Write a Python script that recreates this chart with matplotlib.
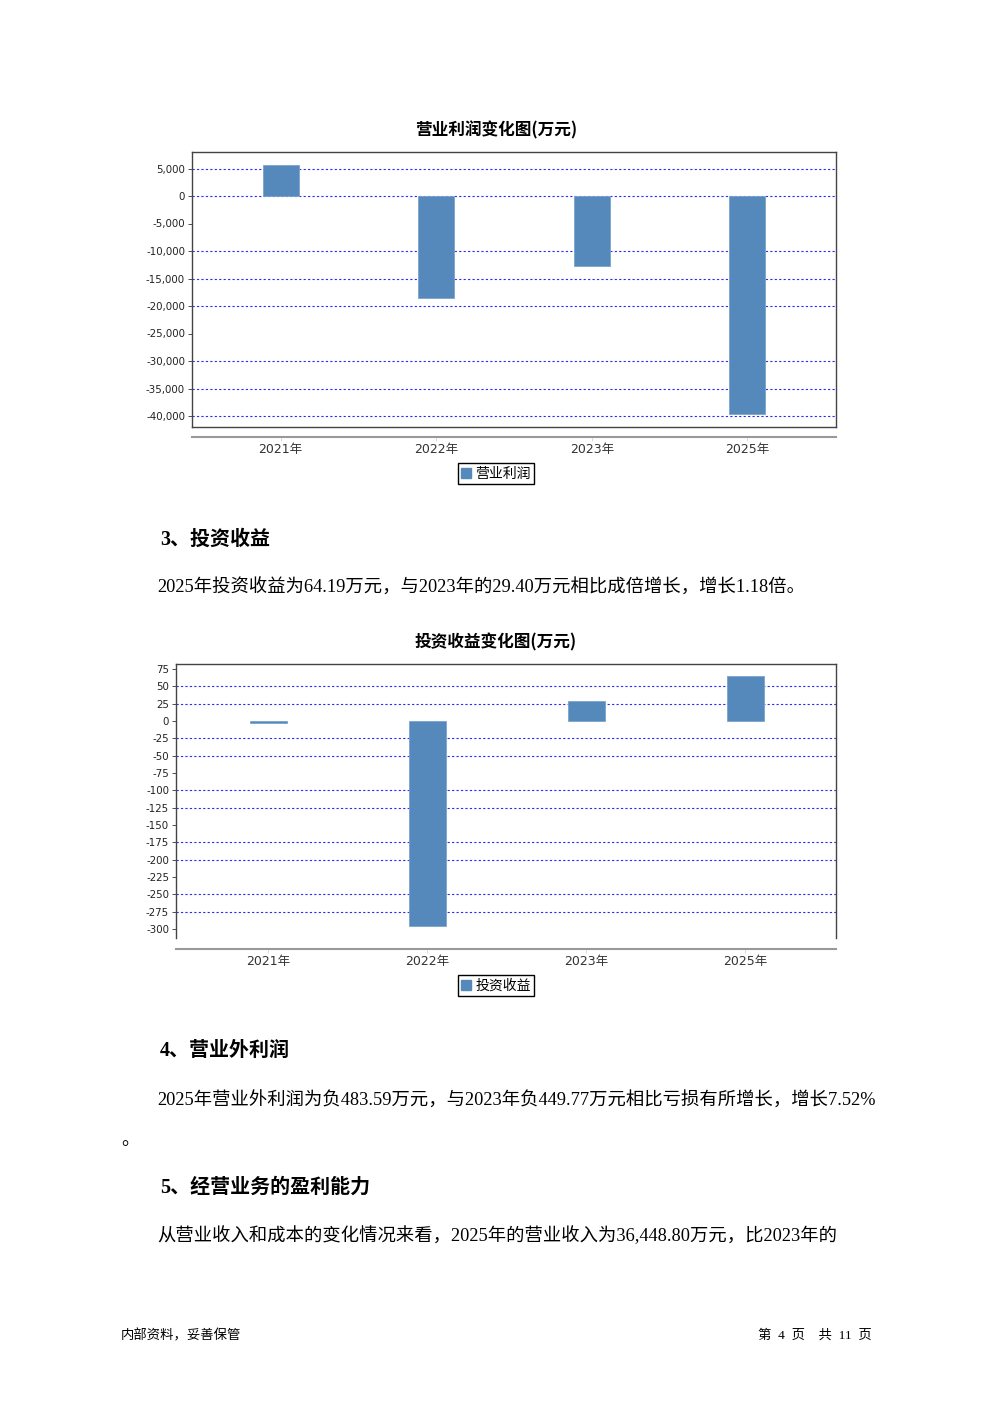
import numpy as np
import matplotlib
matplotlib.use("Agg")
import matplotlib.pyplot as plt
from matplotlib.patches import Patch
from matplotlib.ticker import FuncFormatter

# data
years = ['2021年', '2022年', '2023年', '2025年']
op_profit = [5700, -18500, -12700, -39600]        # 营业利润 (万元)
inv_income = [-2.5, -296, 29.40, 64.19]           # 投资收益 (万元)

op_ticks = list(range(5000, -40001, -5000))
op_grid = [5000, 0, -10000, -15000, -20000, -30000, -35000, -40000]
inv_ticks = list(range(75, -301, -25))
inv_grid = [50, 25, -25, -50, -100, -125, -175, -200, -250, -275]

W, H = 992, 1403
BAR = '#5588bb'
CJK = ['Noto Sans CJK SC', 'DejaVu Sans']
SANS = ['DejaVu Sans', 'Noto Sans CJK SC']
BODY = ['Liberation Serif', 'Noto Sans CJK SC']

plt.rcParams['font.family'] = SANS

fig = plt.figure(figsize=(W / 100, H / 100), dpi=100)
fig.patch.set_facecolor('white')


def px_rect(x0, y0, x1, y1):
    return [x0 / W, 1 - y1 / H, (x1 - x0) / W, (y1 - y0) / H]


def bar_chart(box, axis_y, title, title_y, values, ticks, grid, ylim, xlim,
              label, legend_y, fmt, bottom_border=True):
    x0, y0, x1, y1 = box
    ax = fig.add_axes(px_rect(x0, y0, x1, y1))
    xs = np.arange(len(years))
    ax.bar(xs, values, width=0.23, color=BAR, edgecolor='#7aa3cc',
           linewidth=0.6, zorder=3)
    for g in grid:
        ax.axhline(g, color='#2b2bff', lw=0.8, ls=(0, (2, 2)), zorder=1)
    ax.set_xlim(*xlim)
    ax.set_ylim(*ylim)
    ax.set_yticks(ticks)
    ax.yaxis.set_major_formatter(FuncFormatter(fmt))
    ax.tick_params(axis='y', labelsize=7.4, length=3, width=0.6,
                   colors='#333333', labelcolor='#222222', pad=2)
    ax.tick_params(axis='x', bottom=False, labelbottom=False)
    for s in ax.spines.values():
        s.set_color('#444444')
        s.set_linewidth(1.0)
    if not bottom_border:
        ax.spines['bottom'].set_visible(False)

    # category axis sitting just below the plot box
    cat = fig.add_axes(px_rect(x0, axis_y, x1, axis_y + 0.5))
    cat.set_xlim(*xlim)
    cat.set_yticks([])
    for k in ('top', 'left', 'right'):
        cat.spines[k].set_visible(False)
    cat.spines['bottom'].set_color('#999999')
    cat.spines['bottom'].set_linewidth(1.5)
    cat.set_xticks(xs)
    cat.set_xticklabels(years, fontsize=9, color='#333333')
    cat.tick_params(axis='x', length=3, width=0.5, color='#cccccc', pad=1.5)
    cat.patch.set_alpha(0)

    fig.text(496 / W, 1 - title_y / H, title, ha='center', va='center',
             fontsize=12, fontweight='bold', family=CJK)

    fig.legend(handles=[Patch(color=BAR, label=label)],
               loc='center', bbox_to_anchor=(496 / W, 1 - legend_y / H),
               fancybox=False, edgecolor='black', framealpha=1,
               handlelength=0.7, handleheight=0.7, handletextpad=0.3,
               borderpad=0.25, borderaxespad=0,
               prop={'family': CJK, 'size': 10})
    return ax


bar_chart((192, 152, 836, 427), 436, '营业利润变化图(万元)', 130,
          op_profit, op_ticks, op_grid, (-42000, 8000), (-0.57, 3.57),
          '营业利润', 473.5, lambda v, p: f'{int(v):,}')

bar_chart((176, 664, 836, 938), 948, '投资收益变化图(万元)', 642,
          inv_income, inv_ticks, inv_grid, (-313, 82.2), (-0.58, 3.57),
          '投资收益', 985.5, lambda v, p: f'{int(v)}', bottom_border=False)


def txt(x, y, s, size=13.2, bold=False, ha='left'):
    # small downward nudge: CJK glyph boxes sit high with va='center'
    fig.text(x / W, 1 - (y + 2.5) / H, s, ha=ha, va='center', fontsize=size,
             fontweight='bold' if bold else 'normal', family=BODY)


txt(160, 537, '3、投资收益', size=14.4, bold=True)
txt(157, 585, '2025年投资收益为64.19万元，与2023年的29.40万元相比成倍增长，增长1.18倍。')
txt(160, 1048, '4、营业外利润', size=14.4, bold=True)
txt(157, 1098, '2025年营业外利润为负483.59万元，与2023年负449.77万元相比亏损有所增长，增长7.52%')
txt(121, 1138, '。')
txt(160, 1185, '5、经营业务的盈利能力', size=14.4, bold=True)
txt(157, 1233, '从营业收入和成本的变化情况来看，2025年的营业收入为36,448.80万元，比2023年的')

txt(121, 1333, '内部资料，妥善保管', size=9.6)
txt(872, 1333, '第  4  页    共  11  页', size=9.6, ha='right')

fig.savefig('out.png', dpi=100, facecolor='white')
